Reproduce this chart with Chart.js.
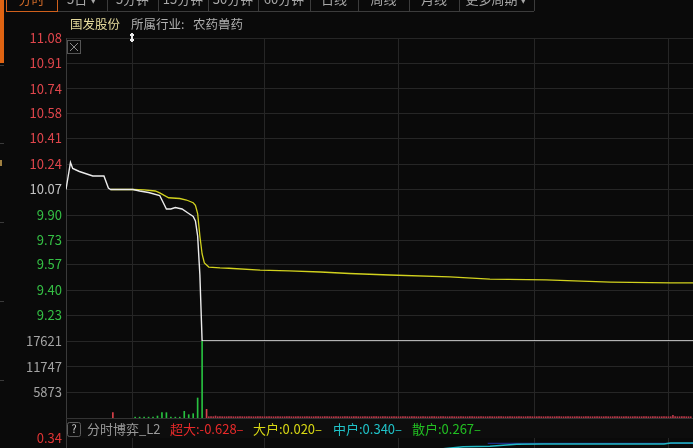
<!DOCTYPE html>
<html><head><meta charset="utf-8">
<script src="https://cdn.jsdelivr.net/npm/chart.js@4.4.1/dist/chart.umd.min.js"></script>
<style>
html,body{margin:0;padding:0;background:#0a0a0a;overflow:hidden;width:693px;height:448px;}
canvas{display:block;}
</style></head><body>
<canvas id="c" width="693" height="520" style="width:693px;height:520px"></canvas>
<script>
// ---------- data ----------
const stockName = '国发股份';
const industryLabel = '所属行业:';
const industryName = '农药兽药';
const periodTabs = ['分时','5日 ▾','5分钟','15分钟','30分钟','60分钟','日线','周线','月线','更多周期 ▾'];
const prevClose = 10.07;
const priceMin = 9.06;
const priceMax = 11.08;
const priceTicks = [11.08,10.91,10.74,10.58,10.41,10.24,10.07,9.90,9.73,9.57,9.40,9.23];
const volumeMax = 17621;
const volumeTicks = [17621,11747,5873];
const timeGridMinutes = [30,89,149,210,270];
const lastMinute = 281;

const priceMinutes = [0,2,3,6,12,17,19,20,30,33,37,42,43,45,47,49,52,55,57,58,59,60,61,281];
const priceValues  = [10.07,10.25,10.21,10.19,10.16,10.16,10.08,10.07,10.07,10.06,10.05,10.03,10.00,9.94,9.94,9.95,9.94,9.91,9.89,9.86,9.76,9.50,9.06,9.06];

const avgMinutes = [20,30,35,40,42,46,51,54,57,58,59,60,61,62,64,69,73,87,100,114,127,145,172,190,215,244,271,281];
const avgValues  = [10.07,10.07,10.068,10.06,10.047,10.015,10.01,10.00,9.982,9.965,9.91,9.76,9.64,9.58,9.553,9.547,9.545,9.533,9.527,9.52,9.51,9.50,9.487,9.473,9.467,9.453,9.447,9.447];

const volMinutes = [21,31,33,35,37,39,41,43,45,47,49,51,53,55,57,59,61,63];
const volValues  = [1220,200,200,200,200,200,450,1220,1220,200,200,200,1530,760,990,4580,17621,1990];
const volDirs    = ['u','d','d','d','d','d','d','d','d','d','d','d','d','d','d','d','d','u'];
const tailStartMinute = 64;
const tailVolumes = [
300,300,300,450,300,300,300,300,300,300,300,300,300,300,300,300,300,300,300,300,
300,300,300,300,300,300,300,300,300,300,300,300,300,300,300,300,300,300,300,300,
300,300,300,300,300,300,300,300,300,300,300,300,300,300,300,300,300,300,300,300,
300,300,300,300,300,300,300,300,300,300,300,300,300,300,300,300,300,300,300,300,
300,300,300,300,300,300,300,300,300,300,300,300,300,300,300,300,300,300,300,300,
300,300,300,300,300,300,300,300,300,300,300,300,300,300,300,300,300,300,300,300,
300,300,300,300,300,300,300,300,300,300,300,300,300,300,300,300,300,300,300,300,
300,300,300,300,300,300,300,300,300,300,300,300,300,300,300,300,300,300,300,300,
300,300,300,300,300,300,300,300,300,300,300,300,300,300,300,300,300,300,300,300,
300,300,300,300,300,300,300,300,300,300,300,300,300,300,300,300,300,300,300,300,
300,300,300,300,300,300,300,300,600,300,300,300,300,300,300,300,300
];

const gameTitle = '分时博弈_L2';
const gameNames  = ['超大','大户','中户','散户'];
const gameValues = ['-0.628','0.020','0.340','0.267'];
const gameMax = 0.34;
const gameMin = -0.70;
const midMinutes = [60,150,178,190,202,214,268,271,281];
const midValues  = [-0.30,0.15,0.23,0.235,0.26,0.265,0.265,0.278,0.278];
const bigMinutes = [189,281];
const bigValues  = [0.273,0.273];

// ---------- build ----------
const RED = '#e0464c', GREEN = '#35c045', GRAY = '#c4c4c4';
const priceData = priceMinutes.map((m,i)=>({x:m,y:priceValues[i]}));
const avgData = avgMinutes.map((m,i)=>({x:m,y:avgValues[i]}));
const volData = volMinutes.map((m,i)=>({x:m,y:volValues[i]}));
const volColors = volDirs.map(d => d==='u' ? '#d8404a' : '#28c040');
tailVolumes.forEach((v,i)=>{ volData.push({x:tailStartMinute+i,y:v}); volColors.push('#b83848'); });
const midData = midMinutes.map((m,i)=>({x:m,y:midValues[i]}));
const bigData = bigMinutes.map((m,i)=>({x:m,y:bigValues[i]}));

const FONT = "'Noto Sans CJK SC','Noto Sans',sans-serif";
const fixW = s => { s.width = 66; s.paddingTop = 0; s.paddingBottom = 0; };

const deco = {
  id: 'deco',
  beforeDraw(chart){
    const c = chart.ctx;
    c.save(); c.fillStyle = '#0a0a0a'; c.fillRect(0,0,chart.width,chart.height); c.restore();
  },
  afterDatasetsDraw(chart){
    const c = chart.ctx;
    const top = chart.scales.yv.bottom, bot = chart.scales.yg.top;
    const left = chart.chartArea.left, right = chart.chartArea.right;
    c.save();
    c.fillStyle = '#0d0d0d';
    c.fillRect(left+1, top+1, right-left, bot-top-1);
    c.strokeStyle = '#333'; c.lineWidth = 1;
    c.beginPath(); c.moveTo(left, Math.round(top)+0.5); c.lineTo(right, Math.round(top)+0.5); c.stroke();
    c.strokeStyle = '#5c5c5c';
    c.beginPath(); c.roundRect(67.5, Math.round(top)+4.5, 13, 14, 2); c.stroke();
    const my = (top+bot)/2 + 1;
    c.textBaseline = 'middle';
    c.font = '11px ' + FONT; c.fillStyle = '#cfcfcf'; c.textAlign = 'center';
    c.fillText('?', 74, my);
    c.textAlign = 'left';
    c.font = '13px ' + FONT;
    c.fillStyle = '#9a9a9a'; c.fillText(gameTitle, 87, my);
    const xs = [170, 253, 333, 412];
    const cols = ['#e82a2a','#d8d814','#20c2c8','#22c022'];
    gameNames.forEach((n,i)=>{
      c.fillStyle = cols[i];
      c.fillText(n + ':' + gameValues[i] + '–', xs[i], my);
    });
    c.restore();
  },
  afterDraw(chart){
    const c = chart.ctx;
    c.save();
    c.fillStyle = '#e06412'; c.fillRect(0,0,4,63);
    c.fillStyle = '#3a3a3a';
    [65,143,222,301,380].forEach(y=>c.fillRect(0,y,4,1));
    c.fillStyle = '#a08040'; c.fillRect(0,160,2,6);
    const bounds = [6,57,107,158,208,258,310,358,409,459,534];
    c.strokeStyle = '#3c3c3c'; c.lineWidth = 1;
    c.beginPath();
    for (let i=1;i<bounds.length;i++){ c.moveTo(bounds[i]+0.5,0); c.lineTo(bounds[i]+0.5,11); }
    c.moveTo(57,11.5); c.lineTo(534,11.5);
    c.stroke();
    c.strokeStyle = '#d0601c';
    c.strokeRect(6.5,-5,51,16.5);
    c.font = '13px ' + FONT; c.textBaseline = 'middle'; c.textAlign = 'center';
    periodTabs.forEach((t,i)=>{
      c.fillStyle = i===0 ? '#d06a28' : '#a8a8a8';
      c.fillText(t, (bounds[i]+bounds[i+1])/2, -1);
    });
    c.textAlign = 'left';
    c.font = '12.5px ' + FONT;
    c.fillStyle = '#e4da9c'; c.fillText(stockName, 70, 24);
    c.fillStyle = '#b0b0b0'; c.fillText(industryLabel, 131, 24); c.fillText(industryName, 193, 24);
    c.fillStyle = '#e8e8e8';
    c.fillRect(131,33,2,9); c.fillRect(130,34,4,2); c.fillRect(130,39,4,2);
    c.strokeStyle = '#555'; c.strokeRect(67.5,40.5,13,13);
    c.strokeStyle = '#8a8a8a';
    c.beginPath(); c.moveTo(70,43); c.lineTo(78,51); c.moveTo(78,43); c.lineTo(70,51); c.stroke();
    c.restore();
  }
};

const gridCol = '#262626';
new Chart(document.getElementById('c').getContext('2d'), {
  type: 'line',
  data: { datasets: [
    {label:'价格', data:priceData, borderColor:'#ececec', borderWidth:1.4, pointRadius:0, tension:0, yAxisID:'y', order:0},
    {label:'均价', data:avgData, borderColor:'#d2d21e', borderWidth:1.3, pointRadius:0, tension:0, yAxisID:'y', order:1},
    {type:'bar', label:'成交量', data:volData, backgroundColor:volColors, barThickness:1, grouped:false, yAxisID:'yv', order:2},
    {label:'中户', data:midData, borderColor:'#22b8c4', borderWidth:1.5, pointRadius:0, tension:0, yAxisID:'yg', order:3},
    {label:'大户', data:bigData, borderColor:'#1c2a84', borderWidth:1.2, pointRadius:0, tension:0, yAxisID:'yg', order:4}
  ]},
  options: {
    responsive:false, animation:false, events:[],
    layout:{padding:{top:38,left:0,right:0,bottom:0}},
    plugins:{legend:{display:false}, tooltip:{enabled:false}},
    scales: {
      x: {type:'linear', min:0, max:lastMinute, offset:false,
          afterBuildTicks: s => { s.ticks = timeGridMinutes.map(v=>({value:v})); },
          afterFit: s => { s.height = 0; s.paddingLeft = 0; s.paddingRight = 0; },
          ticks:{display:false, padding:0}, grid:{color:gridCol, drawTicks:false, offset:false}, border:{display:false}},
      y: {type:'linear', position:'left', stack:'p', stackWeight:303, weight:4,
          min:priceMin, max:priceMax,
          afterBuildTicks: s => { s.ticks = priceTicks.map(v=>({value:v})); },
          afterFit: fixW,
          ticks:{padding:4, autoSkip:false, font:{family:FONT, size:13},
                 color: c => c.tick.value > prevClose+0.001 ? RED : (c.tick.value < prevClose-0.001 ? GREEN : GRAY),
                 callback: v => Number(v).toFixed(2)},
          grid:{color:gridCol, drawTicks:false}, border:{color:'#3a3a3a'}},
      yv: {type:'linear', position:'left', stack:'p', stackWeight:77, weight:3,
          min:0, max:volumeMax,
          afterBuildTicks: s => { s.ticks = volumeTicks.map(v=>({value:v})); },
          afterFit: fixW,
          ticks:{padding:4, autoSkip:false, font:{family:FONT, size:13}, color:'#a4a4a4', callback: v => String(v)},
          grid:{color:gridCol, drawTicks:false}, border:{color:'#3a3a3a'}},
      ys: {type:'linear', position:'left', stack:'p', stackWeight:20, weight:2,
          min:0, max:1, afterFit: fixW,
          ticks:{display:false}, grid:{display:false, drawTicks:false}, border:{color:'#3a3a3a'}},
      yg: {type:'linear', position:'left', stack:'p', stackWeight:82, weight:1,
          min:gameMin, max:gameMax,
          afterBuildTicks: s => { s.ticks = [{value:gameMax}]; },
          afterFit: fixW,
          ticks:{padding:4, autoSkip:false, font:{family:FONT, size:13}, color:'#e03434', callback: v => Number(v).toFixed(2)},
          grid:{display:false, drawTicks:false}, border:{color:'#3a3a3a'}}
    }
  },
  plugins:[deco]
});
</script>
</body></html>
